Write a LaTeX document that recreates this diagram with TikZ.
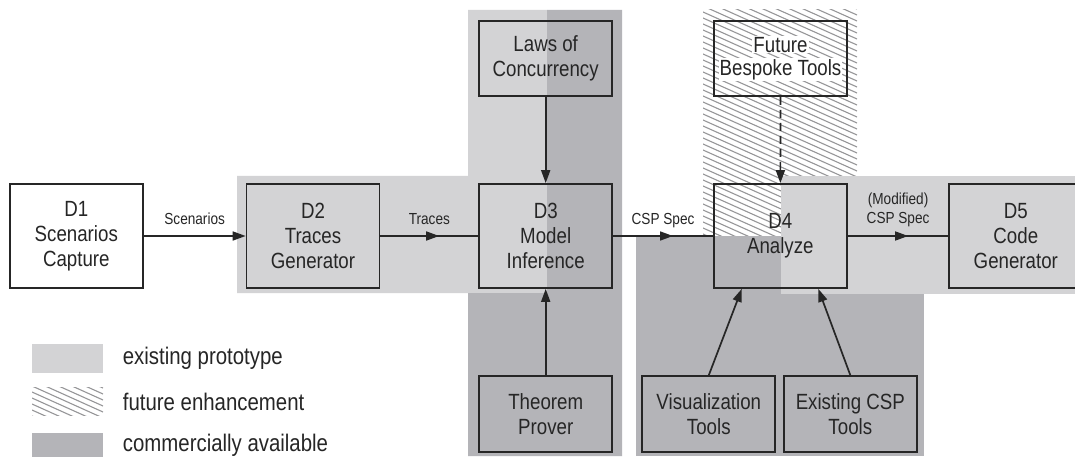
\documentclass[tikz,border=0pt]{standalone}
\usepackage{fontspec}
\setmainfont{Liberation Sans}[FakeStretch=0.85]
\usetikzlibrary{arrows.meta,decorations.markings,calc}

\definecolor{proto}{RGB}{211,211,213}
\definecolor{comm}{RGB}{180,180,184}
\definecolor{hatchc}{RGB}{150,150,152}
\definecolor{ink}{RGB}{38,38,38}

\newcommand\boxtext{\fontsize{22}{25}\selectfont}
\newcommand\lbltext{\fontsize{16}{19}\selectfont}
\newcommand\legtext{\fontsize{24}{28}\selectfont}
\newcommand\knock[1]{{\setlength\fboxsep{1pt}\colorbox{white}{#1}}}

\tikzset{
  stage/.style={draw=ink, line width=1.7pt, minimum width=133pt, minimum height=104pt,
    inner sep=0pt, align=center, font=\boxtext, text=ink},
  toolbox/.style={stage, minimum height=76pt},
  flow/.style={draw=ink, line width=1.7pt},
  tipend/.style={-{Triangle[length=13pt,width=9pt]}},
  midtip/.style={postaction=decorate, decoration={markings,
    mark=at position 0.6 with {\arrow{Triangle[length=13pt,width=9pt]}}}},
  lbl/.style={font=\lbltext, text=ink, inner sep=0pt, align=center},
  legend/.style={font=\legtext, text=ink, inner sep=0pt, anchor=base west},
  hatchline/.style={draw=hatchc, line width=1.1pt},
}

\begin{document}
\begin{tikzpicture}[x=1pt, y=-1pt]
  \clip (0,0) rectangle (1075,457);
  \fill[white] (0,0) rectangle (1075,457);

  % --- shaded regions around D2 / D3
  \fill[proto] (237,176) -- (468,176) -- (468,10) -- (547,10) -- (547,293) -- (237,293) -- cycle;
  \fill[comm] (547,10) -- (622,10) -- (622,456) -- (468,456) -- (468,293) -- (547,293) -- cycle;

  % --- hatched area above D4
  \begin{scope}
    \clip (703,10) rectangle (857,236);
    \foreach \c in {-66,-60,...,240} \draw[hatchline] (703,\c) -- (857,\c+69);
  \end{scope}

  % --- commercially available tools below D4 and the prototype band on the right
  \fill[comm] (636,236) rectangle (924,456);
  \fill[proto] (781,176) rectangle (1080,294);

  % --- legend
  \fill[proto] (32,344) rectangle (103,373);
  \begin{scope}
    \clip (32,387) rectangle (103,415);
    \foreach \c in {350,356,...,420} \draw[hatchline] (32,\c) -- (103,\c+32);
  \end{scope}
  \fill[comm] (32,433) rectangle (103,462);
  \node[legend] (l1) at (122.7,364.3) {existing prototype};
  \node[legend] (l2) at (122.7,410) {future enhancement};
  \node[legend] (l3) at (122.7,451) {commercially available};

  % --- stages
  \node[stage] (d1) at (76.3,236) {D1\\Scenarios\\Capture};
  \node[stage] (d2) at (313,236) {D2\\Traces\\Generator};
  \node[stage] (d3) at (545.7,236) {D3\\Model\\Inference};
  \node[stage] (d4) at (780.3,236) {D4\\Analyze};
  \node[stage] (d5) at (1015.8,236) {D5\\Code\\Generator};

  % --- supporting tools
  \node[toolbox, minimum height=75pt] (laws) at (545.7,58.5) {Laws of\\Concurrency};
  \node[toolbox, minimum height=75pt] (future) at (780.5,58.5) {\knock{Future}\\[-2pt]\knock{Bespoke Tools}};
  \node[toolbox] (prover) at (545.7,414) {Theorem\\Prover};
  \node[toolbox] (vis) at (708.8,414) {Visualization\\Tools};
  \node[toolbox] (csp) at (850.3,414) {Existing CSP\\Tools};

  % --- main flow
  \draw[flow, tipend] (d1) -- (d2)
    node[lbl, midway, anchor=base, yshift=12pt] (ls) {Scenarios};
  \draw[flow, midtip] (d2) -- (d3)
    node[lbl, midway, anchor=base, yshift=12pt] (lt) {Traces};
  \draw[flow, midtip] (d3) -- (d4)
    node[lbl, midway, anchor=base, yshift=12pt] (lc) {CSP Spec};
  \draw[flow, midtip] (d4) -- (d5)
    node[lbl, midway, anchor=south, yshift=8.5pt] (lm) {(Modified)\\CSP Spec};

  % --- tool inputs
  \draw[flow, tipend] (laws) -- (d3);
  \draw[flow, tipend] (prover) -- (d3);
  \draw[flow, tipend, dash pattern=on 8pt off 5pt] (future) -- (d4);
  \draw[flow, tipend] (vis.north) -- ($(d4.south)+(-38.5,0)$);
  \draw[flow, tipend] (csp.north) -- ($(d4.south)+(38,0)$);
\end{tikzpicture}
\end{document}
